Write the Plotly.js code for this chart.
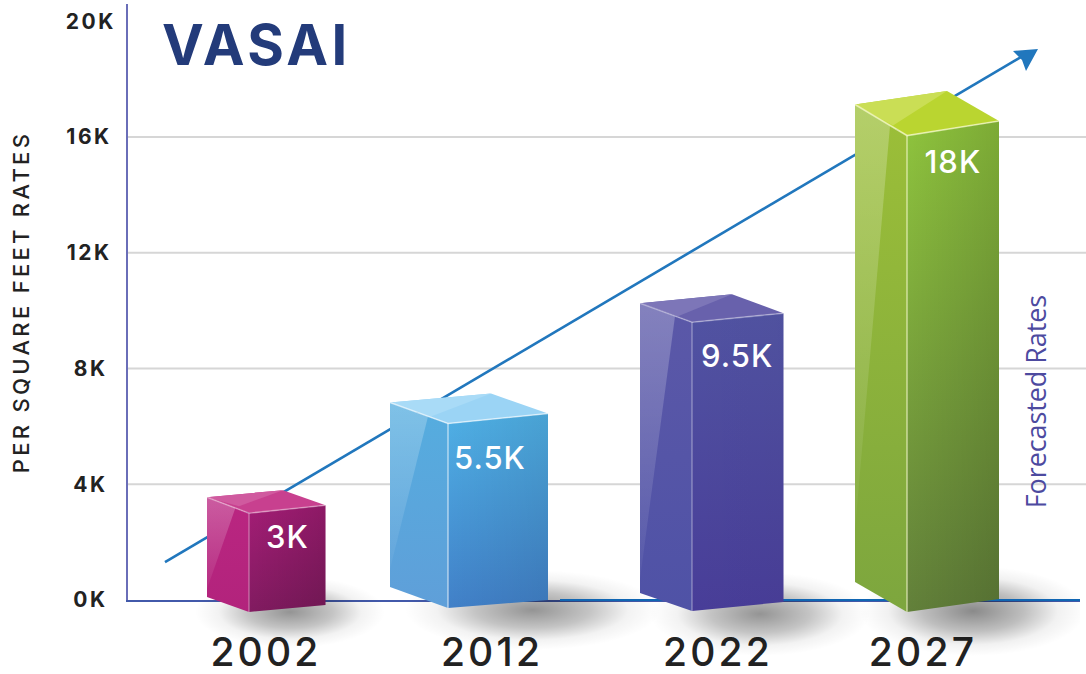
<!DOCTYPE html>
<html>
<head>
<meta charset="utf-8">
<script src="https://cdn.plot.ly/plotly-3.0.1.min.js"></script>
<style>
html,body{margin:0;padding:0;background:#fff;overflow:hidden}
#chart{width:1086px;height:674px}
.ytick text{letter-spacing:2.5px}
.xtick text{letter-spacing:3.2px}
.ytitle{letter-spacing:3.3px}
.gtitle{letter-spacing:3.4px}
.annotation text{letter-spacing:1px}
.annotation[data-index="4"] text{letter-spacing:-0.1px}
</style>
</head>
<body>
<div id="chart"></div>
<script>
// ---- data ----
const years = ['2002', '2012', '2022', '2027'];
const yearCentres = [266, 492, 718, 923];
const barTops = [3000, 6100, 9600, 16050];
const valueLabels = ['3K', '5.5K', '9.5K', '18K'];
const yTicks = [0, 4000, 8000, 12000, 16000, 20000];
const yTickText = ['0K\u200a\u200a', '4K\u200a\u200a', '8K\u200a\u200a', '12K\u200a', '16K\u200a', '20K'];
const gridValues = [4000, 8000, 12000, 16000];
const trendX = [165, 1030];
const trendY = [1310, 18950];

// ---- prism geometry (axis x units; y offsets in plot pixels) ----
const leftX = [207, 390, 640, 855];
const frontX = [249, 448, 692, 907];
const rightX = [325.5, 548, 783.5, 999];
const apexX = [283, 491, 732, 947];
const leftRise = [16, 21, 19, 31];
const apexRise = [23, 30, 28, 44.5];
const rightRise = [8, 10, 9, 14.5];
const leftFoot = [3, 13, 7, 18];
const frontFoot = [-12, -8, -11, -12];
const rightFoot = [-5, 0, -2, 1];
const sheenX = [29, 38, 35, 35];
const sheenDrop = [9, 14, 13, 21];
const sheenFoot = [8, 18, 14, 52];
const shadowX = [[195, 385], [405, 660], [650, 870], [860, 1086]];
const shadowY = [[-48, 24], [-50, 30], [-56, 28], [-56, 34]];
const shadowAlpha = [0.42, 0.42, 0.42, 0.46];

// ---- palettes: [front top, front bottom, left top, left bottom, top face, top sheen, edge] ----
const palettes = [
  ['#a41d76', '#811b60', '#ba2681', '#b2237c', '#c8408f', '#d05a9f', 'rgba(255,255,255,0.35)'],
  ['#4fb0e5', '#4180c8', '#55addf', '#5f9fd9', '#9bd4f5', '#a9dbf7', 'rgba(255,255,255,0.6)'],
  ['#5153a2', '#483d98', '#5b58a8', '#4f52a6', '#6861ac', '#7d76b8', 'rgba(255,255,255,0.35)'],
  ['#8fc43d', '#62803a', '#9cbf38', '#7da63e', '#bad530', '#cade55', 'rgba(255,255,220,0.65)']
];
const frontShade = [0.14, 0.08, 0.02, 0.13];

const PX = 4000 / 115.75; // data units per plot pixel
const traces = [];

function poly(xs, ys, opts) {
  traces.push(Object.assign({
    type: 'scatter', mode: 'lines', xaxis: 'x', yaxis: 'y2', x: xs.concat(xs[0]), y: ys.concat(ys[0]),
    fill: 'toself', line: {width: 0}, hoverinfo: 'skip', showlegend: false
  }, opts));
}
function stroke(xs, ys, color, width) {
  traces.push({type: 'scatter', mode: 'lines', xaxis: 'x', yaxis: 'y2', x: xs, y: ys,
    hoverinfo: 'skip', showlegend: false, line: {color: color, width: width}});
}

// anchor trace that keeps the visible value axis alive
traces.push({type: 'scatter', mode: 'none', x: yearCentres, y: barTops, xaxis: 'x', yaxis: 'y', hoverinfo: 'skip', showlegend: false});

// soft floor shadows
years.forEach((_, i) => {
  const [x0, x1] = shadowX[i];
  const [y0, y1] = shadowY[i].map(d => d * PX);
  poly([x0, x1, x1, x0], [y0, y0, y1, y1], {
    fillcolor: 'rgba(0,0,0,0)',
    fillgradient: {type: 'radial', colorscale: [
      [0, 'rgba(0,0,0,' + shadowAlpha[i] + ')'],
      [0.45, 'rgba(0,0,0,' + shadowAlpha[i] * 0.55 + ')'],
      [0.75, 'rgba(0,0,0,' + shadowAlpha[i] * 0.12 + ')'],
      [1, 'rgba(0,0,0,0)']]}
  });
});

// right-hand stretch of the baseline turns blue
stroke([560, 1080], [0, 0], '#1066b3', 2);

// trend arrow
stroke(trendX, trendY, '#2177bd', 2.6);
const tipX = 1038, tipY = (600 - 49) * PX;
poly([tipX, 1013, 1022, 1026], [tipY, tipY - 2 * PX, tipY - 11 * PX, tipY - 22 * PX], {fillcolor: '#2177bd'});

// prisms
years.forEach((_, i) => {
  const p = palettes[i], t = barTops[i];
  const lt = t + leftRise[i] * PX, at = t + apexRise[i] * PX, rt = t + rightRise[i] * PX;
  const lb = leftFoot[i] * PX, fb = frontFoot[i] * PX, rb = rightFoot[i] * PX;
  const vert = (a, b) => ({type: 'vertical', colorscale: [[0, b], [1, a]]});
  // left face
  poly([leftX[i], frontX[i], frontX[i], leftX[i]], [lt, t, fb, lb], {fillcolor: p[2], fillgradient: vert(p[2], p[3])});
  // left face sheen
  poly([leftX[i], leftX[i] + sheenX[i], leftX[i]],
       [lt, lt - sheenDrop[i] * PX, lb + sheenFoot[i] * PX],
       {fillcolor: 'rgba(255,255,255,0.15)', fillgradient: vert('rgba(255,255,255,0.25)', 'rgba(255,255,255,0.04)')});
  // front face
  poly([frontX[i], rightX[i], rightX[i], frontX[i]], [t, rt, rb, fb], {fillcolor: p[0], fillgradient: vert(p[0], p[1])});
  poly([frontX[i], rightX[i], rightX[i], frontX[i]], [t, rt, rb, fb], {
    fillcolor: 'rgba(0,0,0,0)',
    fillgradient: {type: 'horizontal', colorscale: [[0, 'rgba(0,0,0,0)'], [1, 'rgba(0,0,0,' + frontShade[i] + ')']]}
  });
  // top face
  poly([leftX[i], apexX[i], rightX[i], frontX[i]], [lt, at, rt, t], {fillcolor: p[4]});
  poly([leftX[i], apexX[i], leftX[i] + sheenX[i] + 3], [lt, at, lt - sheenDrop[i] * PX], {fillcolor: p[5]});
  // highlighted edges
  stroke([leftX[i], frontX[i], rightX[i]], [lt, t, rt], p[6], 1.6);
  stroke([frontX[i], frontX[i]], [t, fb], p[6], 1.4);
});

const labelDrop = [23, 34, 33, 26];
const labelX = [287, 490, 737, 953];
const annotations = valueLabels.map((s, i) => ({
  text: s, x: labelX[i], y: barTops[i] - labelDrop[i] * PX, xref: 'x', yref: 'y',
  showarrow: false, xanchor: 'center', yanchor: 'middle',
  font: {family: 'Inter', size: 31, color: '#ffffff', weight: 500}
}));
annotations.push({
  text: 'Forecasted Rates', x: 1035, y: 6842, xref: 'x', yref: 'y', textangle: -90,
  showarrow: false, xanchor: 'center', yanchor: 'middle',
  font: {family: 'Open Sans', size: 27, color: '#4d4a9f', weight: 400}
});

const shapes = gridValues.map(v => ({
  type: 'line', layer: 'below', xref: 'paper', yref: 'y', x0: 0, x1: 1.0063, y0: v, y1: v,
  line: {color: '#d6d6d6', width: 2}
}));

const layout = {
  width: 1086, height: 674,
  margin: {l: 128, r: 6, t: 4, b: 0, pad: 0},
  paper_bgcolor: '#ffffff', plot_bgcolor: 'rgba(0,0,0,0)',
  showlegend: false, hovermode: false,
  title: {text: 'VASAI', x: 162 / 1086, xanchor: 'left', xref: 'container', y: 1 - 45 / 674, yanchor: 'middle', yref: 'container',
    font: {family: 'Inter', size: 56, color: '#233b7a', weight: 700}},
  xaxis: {
    range: [128, 1080], anchor: 'y', tickmode: 'array', tickvals: yearCentres, ticktext: years,
    showgrid: false, zeroline: false, ticks: '', showline: true, linecolor: '#4259aa', linewidth: 2,
    layer: 'below traces', ticklabelstandoff: 17,
    tickfont: {family: 'Inter', size: 39, color: '#222222', weight: 500}
  },
  yaxis: {
    domain: [74 / 670, 1], anchor: 'x',
    range: [0, 596 * PX], tickmode: 'array', tickvals: yTicks, ticktext: yTickText,
    showgrid: false, zeroline: false, ticks: '', showline: true, linecolor: '#6a6eb8', linewidth: 2,
    layer: 'below traces', ticklabelstandoff: 6,
    tickfont: {family: 'Inter', size: 21, color: '#222222', weight: 700},
    title: {text: 'PER SQUARE FEET RATES', standoff: 30, font: {family: 'Inter', size: 22, color: '#222222', weight: 500}}
  },
  yaxis2: {
    domain: [0, 1], anchor: 'x', range: [-74 * PX, 596 * PX], visible: false, showgrid: false, zeroline: false
  },
  shapes: shapes, annotations: annotations
};

Plotly.newPlot('chart', traces, layout, {displayModeBar: false, staticPlot: true});
</script>
</body>
</html>
